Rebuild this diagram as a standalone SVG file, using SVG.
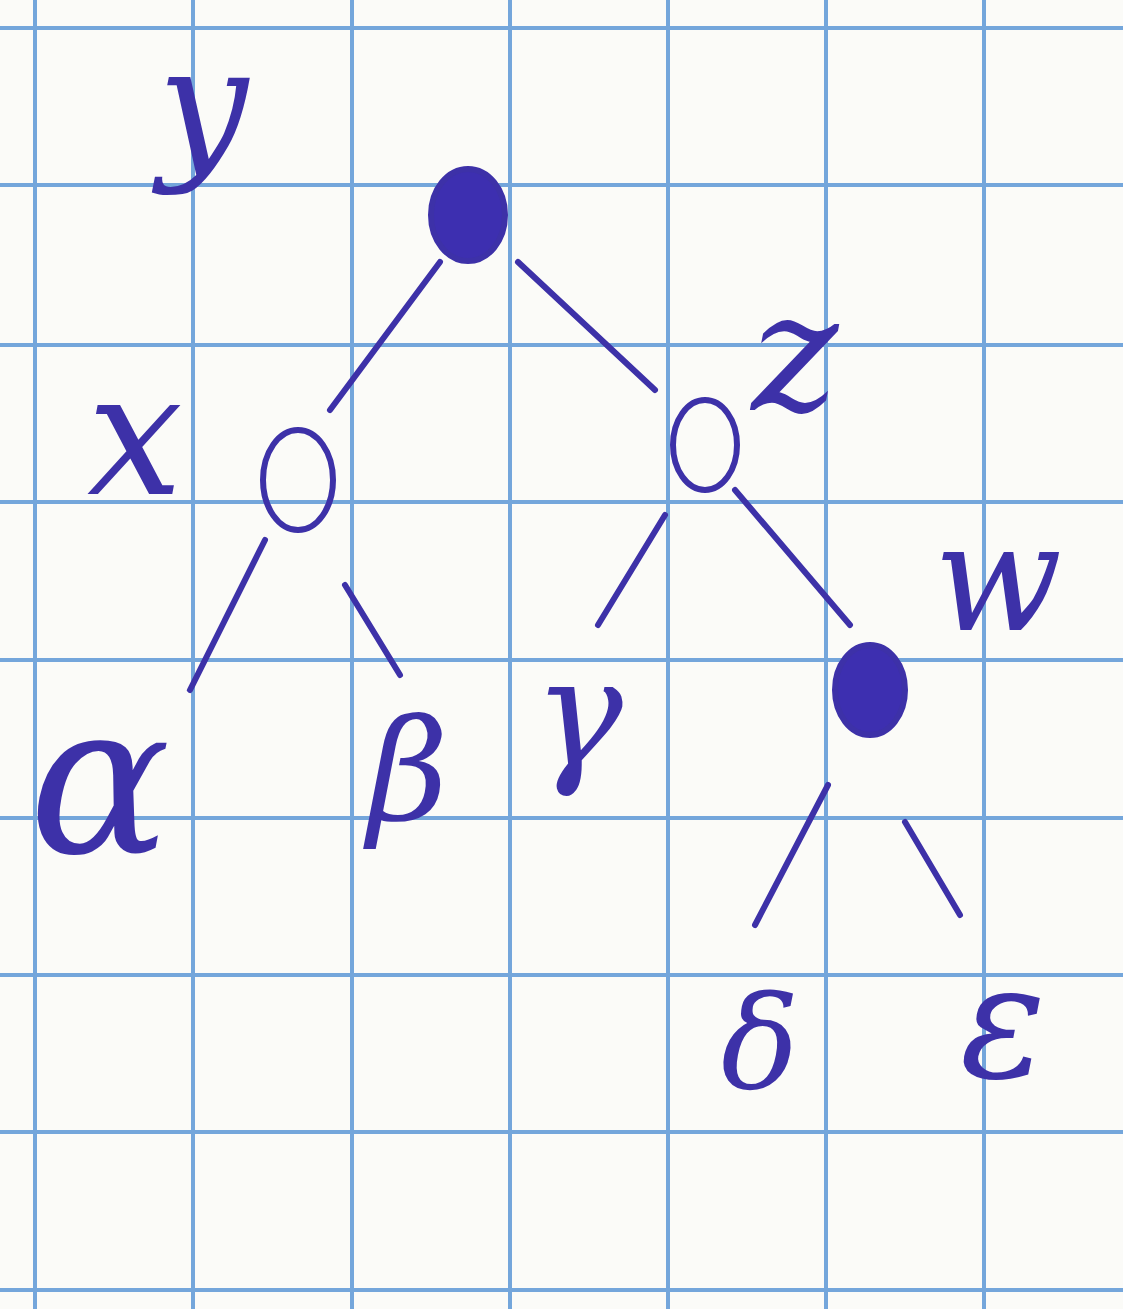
<svg xmlns="http://www.w3.org/2000/svg" width="1123" height="1309" viewBox="0 0 1123 1309">
<style>
.grid line{stroke:#74a6db;stroke-width:4}
.ink{stroke:#3d31a8;stroke-width:6;stroke-linecap:round;fill:none}
.full{fill:#3d2fb0;stroke:#3d31a8;stroke-width:6}
.open{fill:none;stroke:#3d31a8;stroke-width:6}
.lab{font-family:"DejaVu Serif","Liberation Serif",serif;font-style:italic;fill:#3d31a8;text-anchor:middle}
</style>
<rect width="1123" height="1309" fill="#fbfbf8"/>
<g class="grid">
<line x1="35" y1="0" x2="35" y2="1309"/><line x1="193" y1="0" x2="193" y2="1309"/><line x1="352" y1="0" x2="352" y2="1309"/><line x1="510" y1="0" x2="510" y2="1309"/><line x1="668" y1="0" x2="668" y2="1309"/><line x1="826" y1="0" x2="826" y2="1309"/><line x1="984" y1="0" x2="984" y2="1309"/>
<line x1="0" y1="28" x2="1123" y2="28"/><line x1="0" y1="185" x2="1123" y2="185"/><line x1="0" y1="345" x2="1123" y2="345"/><line x1="0" y1="502" x2="1123" y2="502"/><line x1="0" y1="660" x2="1123" y2="660"/><line x1="0" y1="818" x2="1123" y2="818"/><line x1="0" y1="975" x2="1123" y2="975"/><line x1="0" y1="1132" x2="1123" y2="1132"/><line x1="0" y1="1290" x2="1123" y2="1290"/>
</g>
<g id="connectors" class="ink">
<line x1="440" y1="262" x2="330" y2="410"/>
<line x1="518" y1="262" x2="655" y2="390"/>
<line x1="265" y1="540" x2="190" y2="690"/>
<line x1="345" y1="585" x2="400" y2="675"/>
<line x1="665" y1="515" x2="598" y2="625"/>
<line x1="735" y1="490" x2="850" y2="625"/>
<line x1="828" y1="785" x2="755" y2="925"/>
<line x1="905" y1="822" x2="960" y2="915"/>
</g>
<g id="node-y"><ellipse class="full" cx="468" cy="215" rx="37" ry="46"/><text class="lab" x="203" y="160" font-size="160">y</text></g>
<g id="node-x"><ellipse class="open" cx="298" cy="480" rx="35" ry="50"/><text class="lab" x="135" y="494" font-size="170">x</text></g>
<g id="node-z"><ellipse class="open" cx="705" cy="445" rx="32" ry="45"/><text class="lab" x="795" y="410" font-size="165">z</text></g>
<g id="node-w"><ellipse class="full" cx="870" cy="690" rx="35" ry="45"/><text class="lab" x="998" y="630" font-size="150">w</text></g>
<g id="leaf-alpha"><text class="lab" x="100" y="852" font-size="210">α</text></g>
<g id="leaf-beta"><text class="lab" x="408" y="820" font-size="140">β</text></g>
<g id="leaf-gamma"><text class="lab" x="578" y="765" font-size="150">γ</text></g>
<g id="leaf-delta"><text class="lab" x="760" y="1088" font-size="130">δ</text></g>
<g id="leaf-epsilon"><text class="lab" x="1003" y="1077" font-size="160">ε</text></g>
</svg>
